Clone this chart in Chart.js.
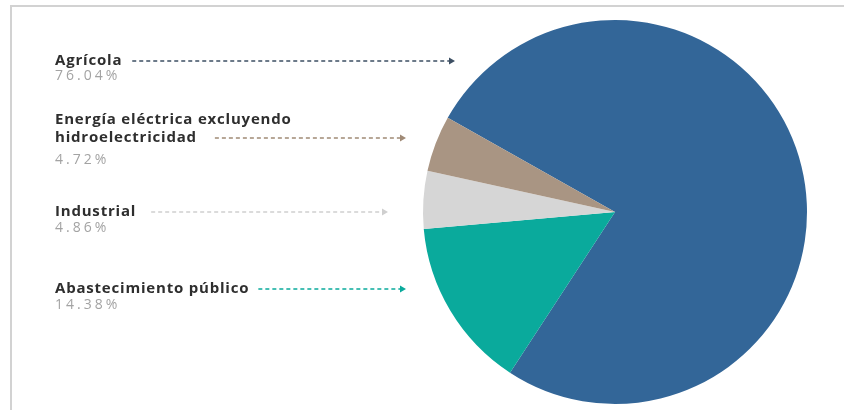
<!DOCTYPE html>
<html lang="es">
<head>
<meta charset="utf-8">
<title>Usos del agua</title>
<script src="https://cdn.jsdelivr.net/npm/chart.js@4"></script>
<style>
  html, body { margin: 0; padding: 0; background: #fff; }
  #wrap { position: relative; width: 844px; height: 410px; }
  #marco {
    position: absolute; left: 10px; top: 5px; right: 0; bottom: 0;
    border-top: 2px solid #d2d2d2; border-left: 2px solid #d2d2d2;
  }
  canvas { position: absolute; left: 0; top: 0; }
</style>
</head>
<body>
<div id="wrap">
  <div id="marco"></div>
  <canvas id="pie"></canvas>
</div>
<script>
// datos: porcentaje de uso por sector
const categorias = [
  "Agrícola",
  "Abastecimiento público",
  "Industrial",
  ["Energía eléctrica excluyendo", "hidroelectricidad"]
];
const porcentajes = [76.04, 14.38, 4.86, 4.72];
const colores = ["#336698", "#0aaa9c", "#d6d6d6", "#a99583"];

// posición de las etiquetas de la izquierda (mismo orden que los datos)
const etiquetas = {
  x: 55,
  yNombre: [65, 293, 216, 124],
  yPct: [80, 309, 232, 164],
  flechaX: [455, 406, 388, 406],
  hueco: [10, 9, 15, 18],
  colorLinea: ["#3d4f63", "#0aaa9c", "#cfcfcf", "#a08a76"]
};

const calloutPlugin = {
  id: "callouts",
  afterDraw(chart) {
    const ctx = chart.ctx;
    const labels = chart.data.labels;
    const vals = chart.data.datasets[0].data;
    ctx.save();
    labels.forEach((lab, i) => {
      const lines = Array.isArray(lab) ? lab : [lab];
      let y = etiquetas.yNombre[i];
      ctx.font = "700 15px 'Open Sans'";
      ctx.letterSpacing = "0.8px";
      ctx.fillStyle = "#2e2e2e";
      ctx.textBaseline = "alphabetic";
      ctx.textAlign = "left";
      let w = 0;
      lines.forEach((ln, k) => {
        if (k > 0) y += 18;
        ctx.fillText(ln, etiquetas.x, y);
        w = ctx.measureText(ln).width;
      });

      // porcentaje
      ctx.font = "400 14px 'Open Sans'";
      ctx.letterSpacing = "3px";
      ctx.fillStyle = "#a3a3a3";
      ctx.fillText(vals[i].toFixed(2) + "%", etiquetas.x, etiquetas.yPct[i]);
      ctx.letterSpacing = "0px";

      // línea punteada con flecha
      const ly = y - 4;
      const x0 = etiquetas.x + w + etiquetas.hueco[i];
      const x1 = etiquetas.flechaX[i];
      ctx.strokeStyle = etiquetas.colorLinea[i];
      ctx.lineWidth = 1.3;
      ctx.setLineDash([4, 3]);
      ctx.beginPath();
      ctx.moveTo(x0, ly);
      ctx.lineTo(x1 - 5, ly);
      ctx.stroke();
      ctx.setLineDash([]);
      ctx.fillStyle = etiquetas.colorLinea[i];
      ctx.beginPath();
      ctx.moveTo(x1, ly);
      ctx.lineTo(x1 - 6, ly - 3.5);
      ctx.lineTo(x1 - 6, ly + 3.5);
      ctx.closePath();
      ctx.fill();
    });
    ctx.restore();
  }
};

new Chart(document.getElementById("pie"), {
  type: "pie",
  data: {
    labels: categorias,
    datasets: [{
      data: porcentajes,
      backgroundColor: colores,
      borderWidth: 0
    }]
  },
  options: {
    responsive: true,
    maintainAspectRatio: false,
    animation: false,
    rotation: -60.6,
    layout: { padding: { left: 423, right: 37, top: 20, bottom: 6 } },
    plugins: {
      legend: { display: false },
      tooltip: { enabled: false }
    }
  },
  plugins: [calloutPlugin]
});
</script>
</body>
</html>
